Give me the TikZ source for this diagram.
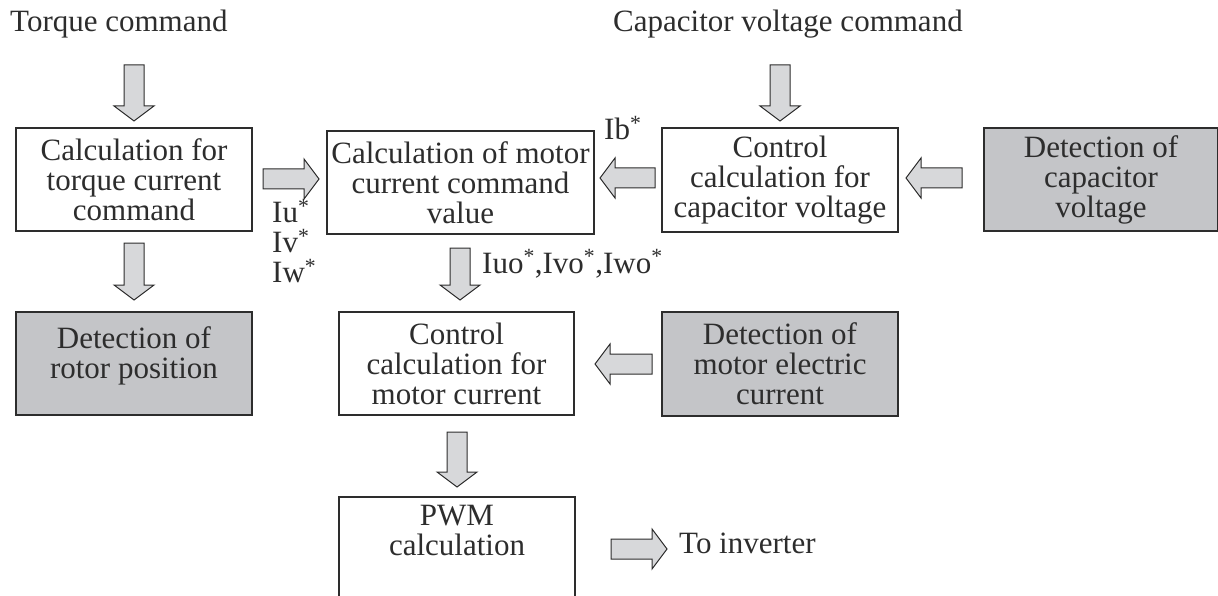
\documentclass[tikz,border=0pt]{standalone}
\usepackage{fontspec}
\setmainfont{Liberation Serif}
\definecolor{boxgray}{RGB}{196,197,200}
\definecolor{arrgray}{RGB}{215,216,218}
\definecolor{ink}{RGB}{45,45,45}
\newcommand{\barrow}[4]{%
  \begin{scope}[shift={(#1,#2)},rotate=#3]
    \draw[blockarrow] (0,-10) -- ({#4-15},-10) -- ({#4-15},-20) -- (#4,0) -- ({#4-15},20) -- ({#4-15},10) -- (0,10) -- cycle;
  \end{scope}}
\begin{document}
\begin{tikzpicture}[x=1pt,y=-1pt,
  box/.style={draw=ink, line width=1.4pt, fill=white, align=center, text=ink, inner sep=0pt, font=\fontsize{31}{30}\selectfont},
  graybox/.style={box, fill=boxgray},
  blockarrow/.style={draw=ink, line width=1pt, fill=arrgray, line join=miter},
  lbl/.style={text=ink, inner sep=0pt, font=\fontsize{31}{30}\selectfont, align=left}]
\useasboundingbox (0,0) rectangle (1218,596);
\clip (0,0) rectangle (1218,596);

% top labels
\node[lbl, anchor=base west] (tq) at (10,32) {Torque command};
\node[lbl, anchor=base west] (cv) at (613,32) {Capacitor voltage command};

% boxes
\node[box, minimum width=236pt, minimum height=103pt] (torque) at (134,179.5) {Calculation for\\torque current\\command};
\node[box, minimum width=267pt, minimum height=103pt] (mcc) at (460.5,182.5) {Calculation of motor\\current command\\value};
\node[box, minimum width=236pt, minimum height=104pt] (ccv) at (780,180) {Control\\calculation for\\capacitor voltage};
\node[graybox, minimum width=234pt, minimum height=103pt] (dcv) at (1101,179.5) {Detection of\\capacitor\\voltage};
\node[graybox, minimum width=236pt, minimum height=103pt] (rotor) at (134,363.5) {Detection of\\rotor position\\[-18pt]\strut};
\node[box, minimum width=235pt, minimum height=103pt] (cmc) at (456.5,363.5) {Control\\calculation for\\motor current};
\node[graybox, minimum width=236pt, minimum height=104pt] (dmc) at (780,364) {Detection of\\motor electric\\current};
\node[box, minimum width=236pt, minimum height=136pt] (pwm) at (457,565) {PWM\\calculation\\\strut\\\strut};

% labels
\node[lbl, anchor=base west] (ib) at (604,140) {Ib\textsuperscript{*}};
\node[lbl, anchor=north west] (iuvw) at (272,199) {Iu\textsuperscript{*}\\Iv\textsuperscript{*}\\Iw\textsuperscript{*}};
\node[lbl, anchor=base west] (iuo) at (482,273) {Iuo\textsuperscript{*},Ivo\textsuperscript{*},Iwo\textsuperscript{*}};
\node[lbl, anchor=base west] (inv) at (679,553) {To inverter};

% block arrows
\barrow{134}{65}{-90}{56}
\barrow{780}{65}{-90}{56}
\barrow{263}{179}{0}{56}
\barrow{655}{178}{180}{55}
\barrow{962}{178}{180}{56}
\barrow{134}{243}{-90}{57}
\barrow{460}{248}{-90}{52}
\barrow{457}{432}{-90}{55}
\barrow{652}{364}{180}{57}
\barrow{611}{549}{0}{56}
\end{tikzpicture}
\end{document}
